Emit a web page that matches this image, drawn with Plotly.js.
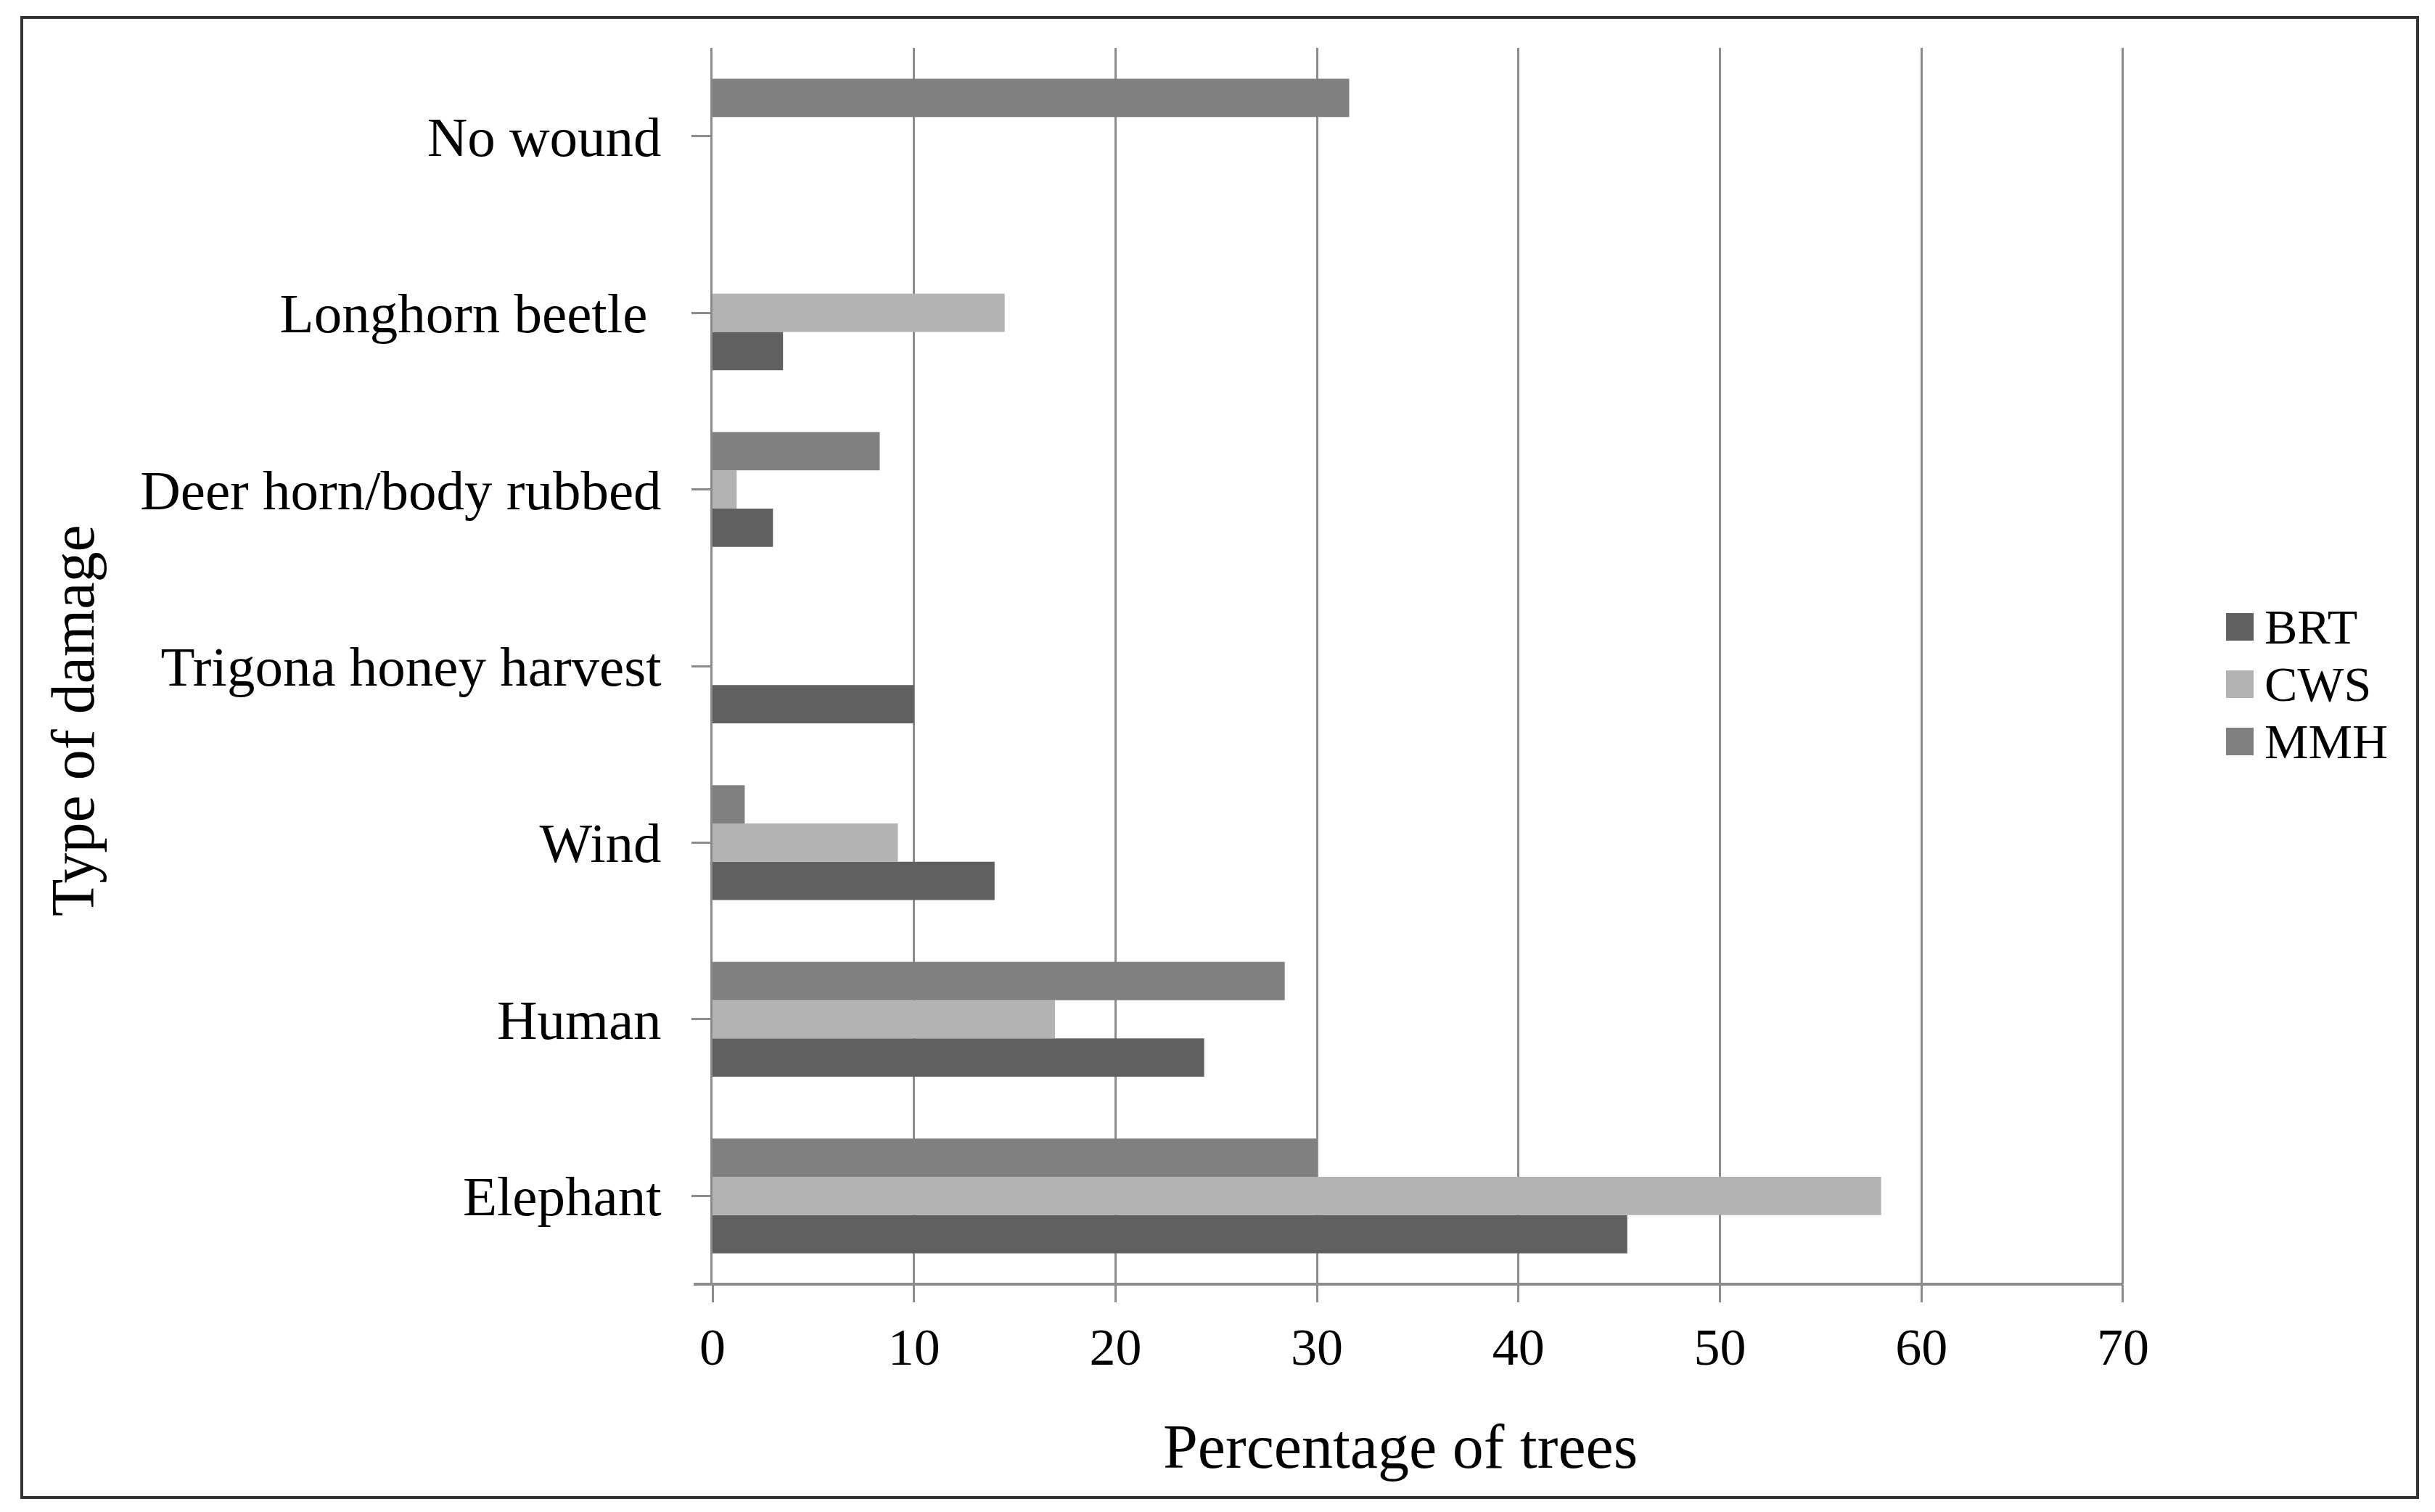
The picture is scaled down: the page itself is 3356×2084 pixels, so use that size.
<!DOCTYPE html>
<html>
<head>
<meta charset="utf-8">
<script src="https://cdn.plot.ly/plotly-3.0.1.min.js"></script>
<style>html,body{margin:0;padding:0;background:#fff;}#chart{width:3356px;height:2084px;}</style>
</head>
<body>
<div id="chart"></div>
<script>
// Data (bottom to top)
const categories = ["Elephant", "Human", "Wind", "Trigona honey harvest", "Deer horn/body rubbed", "Longhorn beetle\u00a0", "No wound"];
const seriesNames = ["BRT", "CWS", "MMH"];
const BRT = [45.4, 24.4, 14.0, 10.0, 3.0, 3.5, 0];
const CWS = [58.0, 17.0, 9.2, 0, 1.2, 14.5, 0];
const MMH = [30.0, 28.4, 1.6, 0, 8.3, 0, 31.6];
const xTicks = [0, 10, 20, 30, 40, 50, 60, 70];

const colors = {BRT: "#606060", CWS: "#b3b3b3", MMH: "#808080"};
const values = {BRT: BRT, CWS: CWS, MMH: MMH};
const FONT = "Liberation Serif, Times New Roman, serif";

const traces = seriesNames.map(n => ({
  type: "bar",
  orientation: "h",
  name: n,
  y: categories,
  x: values[n],
  marker: {color: colors[n], line: {width: 0}},
  showlegend: false,
  hoverinfo: "x+name"
}));

// layout geometry
const W = 3356, H = 2084;
const L = 982, R = 419, T = 66, B = 314;
const pw = W - L - R, ph = H - T - B;
const px = x => (x - L) / pw;
const py = y => (H - B - y) / ph;

const shapes = [
  {type: "rect", xref: "paper", yref: "paper", x0: px(30), x1: px(3332), y0: py(2064), y1: py(24),
   line: {color: "#333333", width: 4}, fillcolor: "rgba(0,0,0,0)", layer: "below"},
  {type: "line", xref: "paper", yref: "paper", x0: px(956), x1: 0, y0: 0, y1: 0,
   line: {color: "#8c8c8c", width: 4}}
];
const annotations = [
  {xref: "paper", yref: "paper", x: px(1930), y: py(1994), text: "Percentage of trees", showarrow: false,
   font: {family: FONT, size: 86, color: "#000"}, xanchor: "center", yanchor: "middle"},
  {xref: "paper", yref: "paper", x: px(100), y: py(993), text: "Type of damage", showarrow: false, textangle: -90,
   font: {family: FONT, size: 84, color: "#000"}, xanchor: "center", yanchor: "middle"}
];
// legend (manual, built from series names)
const legendY = [864, 943, 1022];
seriesNames.forEach((n, i) => {
  const cy = legendY[i];
  shapes.push({type: "rect", xref: "paper", yref: "paper", x0: px(3068), x1: px(3106), y0: py(cy + 19), y1: py(cy - 19),
    fillcolor: colors[n], line: {width: 0}});
  annotations.push({xref: "paper", yref: "paper", x: px(3120), y: py(cy), text: n, showarrow: false,
    xanchor: "left", yanchor: "middle", borderpad: 0, font: {family: FONT, size: 68, color: "#000"}});
});

const layout = {
  width: W, height: H,
  margin: {l: L, r: R, t: T, b: B, pad: 0},
  paper_bgcolor: "#ffffff", plot_bgcolor: "#ffffff",
  barmode: "group", bargap: 0.35, bargroupgap: 0,
  showlegend: false,
  font: {family: FONT, color: "#000"},
  xaxis: {
    range: [0, 70.4], tickvals: xTicks, ticktext: xTicks.map(String),
    showgrid: true, gridcolor: "#8c8c8c", gridwidth: 3, zeroline: false,
    showline: false,
    ticks: "outside", ticklen: 24, tickwidth: 3, tickcolor: "#8c8c8c",
    tickfont: {family: FONT, size: 72, color: "#000"}
  },
  yaxis: {
    type: "category", categoryorder: "array", categoryarray: categories,
    showgrid: false, zeroline: false,
    showline: true, linecolor: "#8c8c8c", linewidth: 3,
    ticks: "outside", ticklen: 26, tickwidth: 3, tickcolor: "#8c8c8c",
    ticklabelstandoff: 26,
    tickfont: {family: FONT, size: 77, color: "#000"}
  },
  shapes: shapes.concat([
    {type: "line", xref: "paper", yref: "paper", x0: 0, x1: px(2926), y0: 0, y1: 0,
     line: {color: "#8c8c8c", width: 4}}
  ]),
  annotations: annotations
};

Plotly.newPlot("chart", traces, layout, {displayModeBar: false, staticPlot: true});
</script>
</body>
</html>
